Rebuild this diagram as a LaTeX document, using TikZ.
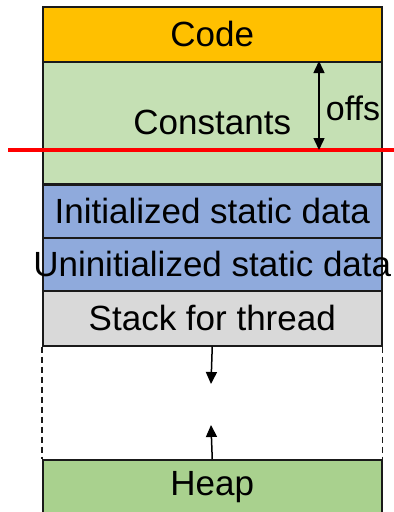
\documentclass[tikz,border=0pt]{standalone}
\usepackage{fontspec}
\setmainfont{Liberation Sans}
\usetikzlibrary{arrows.meta}
\definecolor{codeC}{HTML}{FFC000}
\definecolor{constC}{HTML}{C5E0B4}
\definecolor{dataC}{HTML}{8FAADC}
\definecolor{stackC}{HTML}{D9D9D9}
\definecolor{heapC}{HTML}{A9D18E}
\definecolor{edgeC}{HTML}{1A1A1A}
\begin{document}
\begin{tikzpicture}[x=1pt,y=1pt,
  seg/.style={draw=edgeC, line width=1.5pt, minimum width=339pt, inner sep=0pt, anchor=north west,
    font=\fontsize{35}{40}\selectfont, text=black},
  growarrow/.style={line width=1.5pt, -{Triangle[length=12pt,width=11pt]}},
  dashedge/.style={draw=edgeC, line width=1.5pt, dash pattern=on 6pt off 4pt}]
\useasboundingbox (0,0) rectangle (394,-512);
\node[seg, fill=codeC, minimum height=55pt] (code) at (42,-6) {Code};
\node[seg, fill=constC, minimum height=122pt] (const) at (42,-61) {\raisebox{-1pt}{Constants}};
\node[seg, fill=dataC, minimum height=53pt] (init) at (42,-184) {\makebox[0pt]{Initialized static data}};
\node[seg, fill=dataC, minimum height=53pt] (uninit) at (42,-237) {\makebox[0pt]{Uninitialized static data}};
\node[seg, fill=stackC, minimum height=55pt] (stack) at (42,-290) {Stack for thread};
\node[seg, fill=heapC, minimum height=55pt] (heap) at (42,-459) {Heap};
\draw[dashedge] (stack.south west) -- (heap.north west);
\draw[dashedge] (stack.south east) -- (heap.north east);
\coordinate (redL) at (8,-150);
\coordinate (redR) at (394,-150);
\draw[red, line width=4pt] (redL) -- (redR);
\coordinate (offsTop) at (319,-61);
\coordinate (offsBot) at (319,-150);
\draw[line width=1.5pt, {Triangle[length=12pt,width=11pt]}-{Triangle[length=12pt,width=11pt]}] (offsTop) -- (offsBot);
\node[font=\fontsize{34}{40}\selectfont, inner sep=0pt] (offs) at (353,-108) {offs};
\coordinate (downTip) at (211,-384);
\coordinate (upTip) at (211,-425);
\draw[growarrow] (stack.south) -- (downTip);
\draw[growarrow] (heap.north) -- (upTip);
\end{tikzpicture}
\end{document}
